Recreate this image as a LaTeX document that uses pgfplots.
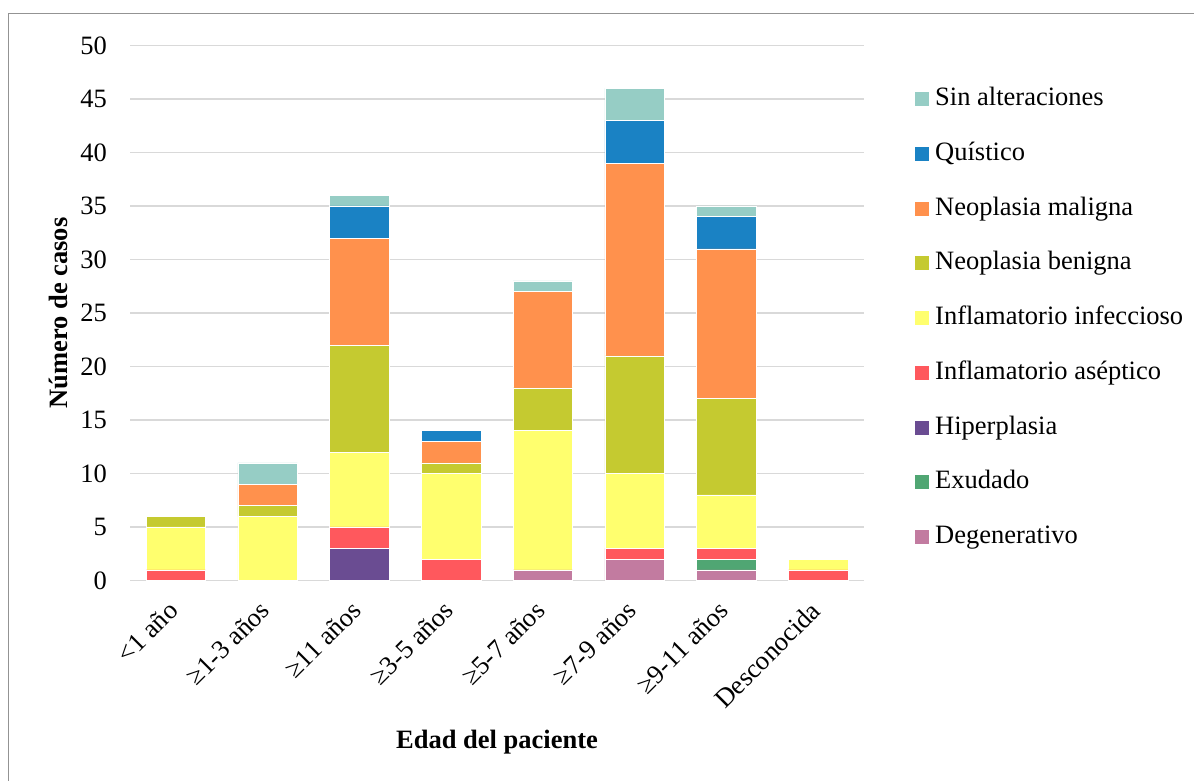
\documentclass[border=0pt]{standalone}
\usepackage{pgfplots}
\pgfplotsset{compat=1.18}
\usepackage{pgfplotstable}
\usepackage{fontspec}
\setmainfont{Liberation Serif}

\definecolor{cSin}{RGB}{150,205,197}
\definecolor{cQui}{RGB}{26,130,196}
\definecolor{cMal}{RGB}{255,145,77}
\definecolor{cBen}{RGB}{197,202,48}
\definecolor{cInf}{RGB}{255,255,110}
\definecolor{cAse}{RGB}{255,88,93}
\definecolor{cHip}{RGB}{106,76,146}
\definecolor{cExu}{RGB}{80,166,115}
\definecolor{cDeg}{RGB}{194,123,160}
\definecolor{cGrid}{RGB}{217,217,217}

% casos por grupo de edad (x = posición de la categoría)
\pgfplotstableread{
x deg exu hip asep inf ben mal qui sin
0 0 0 0 1 4 1 0 0 0
1 0 0 0 0 6 1 2 0 2
2 0 0 3 2 7 10 10 3 1
3 0 0 0 2 8 1 2 1 0
4 1 0 0 0 13 4 9 0 1
5 2 0 0 1 7 11 18 4 3
6 1 1 0 1 5 9 14 3 1
7 0 0 0 1 1 0 0 0 0
}\datatable

\newcommand{\chartfont}{\fontsize{26.5bp}{32bp}\selectfont}

\begin{document}
\begin{tikzpicture}
\path[use as bounding box] (0,0) rectangle (1194bp,781bp);
\begin{axis}[
  at={(130bp,200.5bp)}, anchor=south west,
  scale only axis, width=734bp, height=535bp,
  ybar stacked, bar width=59.5bp,
  xmin=-0.5, xmax=7.5, ymin=0, ymax=50,
  enlargelimits=false,
  xtick={0,...,7},
  xticklabels={<1 año, ≥1-3 años, ≥11 años, ≥3-5 años, ≥5-7 años, ≥7-9 años, ≥9-11 años, Desconocida},
  ytick={0,5,...,50},
  /pgf/number format/assume math mode=true,
  axis line style={draw=none},
  tick style={draw=none},
  ymajorgrids, grid style={cGrid, line width=1.2bp},
  tick label style={font=\chartfont, text=black},
  yticklabel style={inner sep=0pt, xshift=-23bp},
  xticklabel style={xshift=-9bp, yshift=-19bp, rotate=45, anchor=north east, inner sep=0pt},
  xlabel={\textbf{Edad del paciente}},
  ylabel={\textbf{Número de casos}},
  every axis x label/.style={at={(axis description cs:0.5,-0.302)}, anchor=center, font=\chartfont},
  every axis y label/.style={at={(axis description cs:-0.098,0.5)}, rotate=90, anchor=center, font=\chartfont},
  reverse legend,
  legend cell align=left,
  legend style={draw=none, fill=none, font=\chartfont,
    at={(axis description cs:1.0695,0.9234)}, anchor=north west,
    inner sep=0pt, row sep=29.75bp, column sep=6bp,
    nodes={inner sep=0pt, text height=19bp, text depth=6bp}},
  every axis plot/.append style={draw=white, line width=0.4bp,
    legend image code/.code={\fill[##1,draw=none] (0bp,-7bp) rectangle (14bp,7bp);}},
]
\addplot[fill=cDeg] table[x=x,y=deg]{\datatable};
\addlegendentry{Degenerativo}
\addplot[fill=cExu] table[x=x,y=exu]{\datatable};
\addlegendentry{Exudado}
\addplot[fill=cHip] table[x=x,y=hip]{\datatable};
\addlegendentry{Hiperplasia}
\addplot[fill=cAse] table[x=x,y=asep]{\datatable};
\addlegendentry{Inflamatorio aséptico}
\addplot[fill=cInf] table[x=x,y=inf]{\datatable};
\addlegendentry{Inflamatorio infeccioso}
\addplot[fill=cBen] table[x=x,y=ben]{\datatable};
\addlegendentry{Neoplasia benigna}
\addplot[fill=cMal] table[x=x,y=mal]{\datatable};
\addlegendentry{Neoplasia maligna}
\addplot[fill=cQui] table[x=x,y=qui]{\datatable};
\addlegendentry{Quístico}
\addplot[fill=cSin] table[x=x,y=sin]{\datatable};
\addlegendentry{Sin alteraciones}
\end{axis}
\draw[gray!85, line width=1bp] (8bp,0) -- (8bp,767bp) -- (1194bp,767bp);
\end{tikzpicture}
\end{document}
